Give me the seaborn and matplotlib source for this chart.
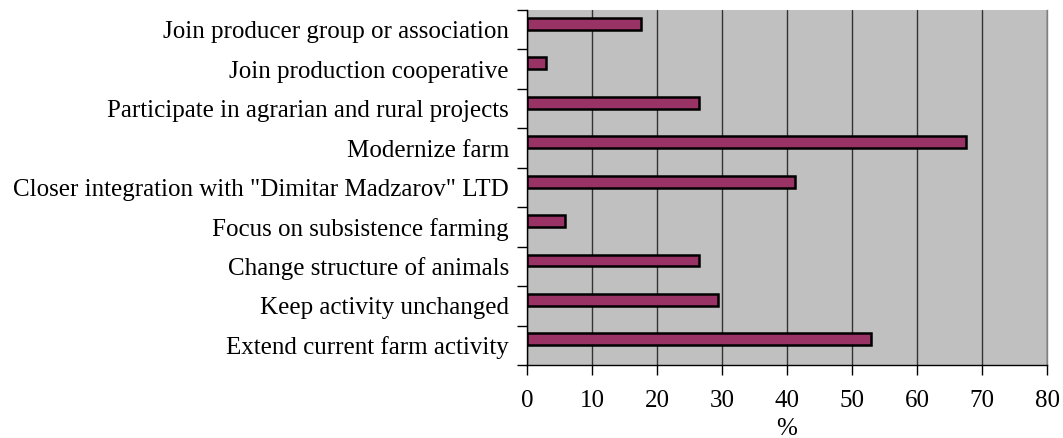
import matplotlib
matplotlib.use("Agg")
import matplotlib.pyplot as plt
import seaborn as sns
import pandas as pd
import numpy as np

categories = [
    "Join producer group or association",
    "Join production cooperative",
    "Participate in agrarian and rural projects",
    "Modernize farm",
    "Closer integration with \"Dimitar Madzarov\" LTD",
    "Focus on subsistence farming",
    "Change structure of animals",
    "Keep activity unchanged",
    "Extend current farm activity",
]
values = [17.6, 2.9, 26.5, 67.6, 41.2, 5.9, 26.5, 29.4, 52.9]
x_ticks = [0, 10, 20, 30, 40, 50, 60, 70, 80]

sns.set_style("white")
plt.rcParams["font.family"] = ["Liberation Serif", "DejaVu Serif"]
plt.rcParams["text.color"] = "black"
plt.rcParams["xtick.color"] = "black"
plt.rcParams["ytick.color"] = "black"
plt.rcParams["axes.labelcolor"] = "black"

df = pd.DataFrame({
    "cat": categories * 2,
    "val": values + [np.nan] * len(values),
    "series": ["A"] * len(values) + ["B"] * len(values),
})

fig = plt.figure(figsize=(10.63, 4.38), dpi=100)
ax = fig.add_axes([527 / 1063, 1 - 365 / 438, 520 / 1063, 355 / 438])
ax.set_facecolor("#C0C0C0")

sns.barplot(data=df, x="val", y="cat", hue="series", hue_order=["A", "B"],
            order=categories, orient="h", dodge=True, width=0.6,
            palette={"A": "#993366", "B": "#993366"}, saturation=1,
            edgecolor="black", linewidth=1.8, legend=False, ax=ax, zorder=3)

ax.set_xlim(0, 80)
ax.set_ylim(len(categories) - 0.5, -0.5)
ax.set_xticks(x_ticks)
ax.set_xticklabels([str(t) for t in x_ticks], fontsize=18)
ax.xaxis.grid(True, color="#333333", linewidth=1.0, zorder=1)
ax.set_axisbelow(True)

# category labels on minor ticks, boundary tick marks on major ticks
ax.set_yticks(np.arange(len(categories) + 1) - 0.5)
ax.set_yticklabels([])
ax.set_yticks(np.arange(len(categories)), minor=True)
ax.set_yticklabels(categories, minor=True, fontsize=18)
ax.tick_params(axis="y", which="minor", length=0, pad=13)
ax.tick_params(axis="y", which="major", length=7, width=1, color="black", direction="out", left=True)
ax.tick_params(axis="x", length=7, width=1, color="black", direction="out", bottom=True, pad=11)

ax.set_ylabel("")
ax.set_xlabel("%", fontsize=18, labelpad=4)

for side in ["left", "bottom"]:
    ax.spines[side].set_color("black")
    ax.spines[side].set_linewidth(1.0)
ax.spines["top"].set_visible(False)
ax.spines["right"].set_color("#808080")
ax.spines["right"].set_linewidth(1.0)

fig.savefig("out.png", dpi=100)
